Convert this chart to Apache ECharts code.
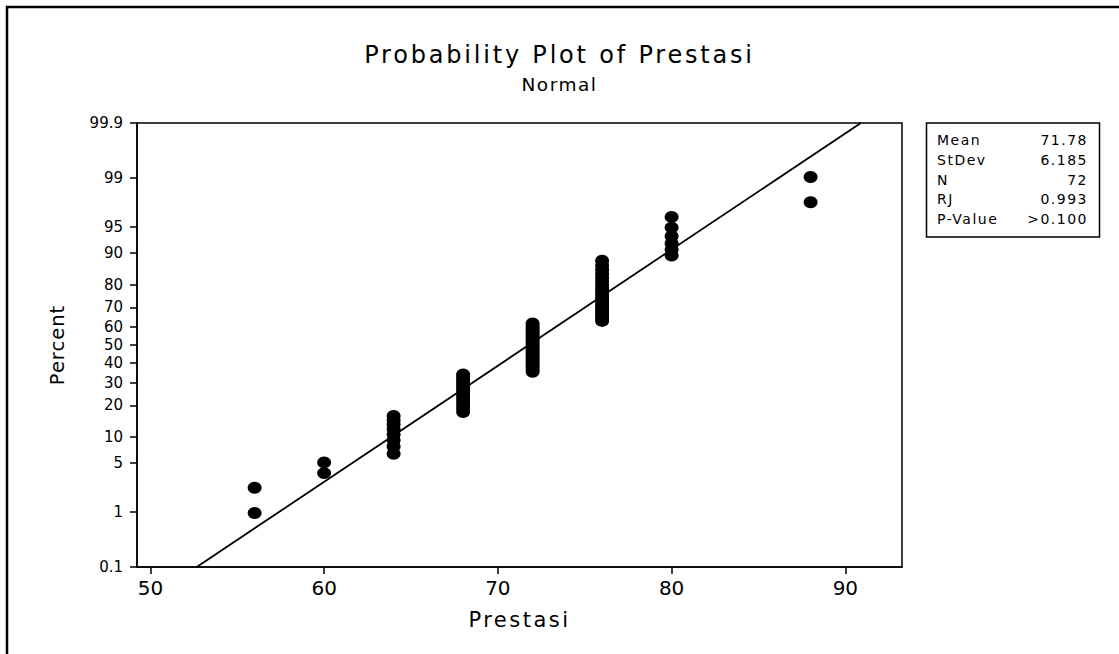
<!DOCTYPE html>
<html>
<head>
<meta charset="utf-8">
<script src="https://cdn.jsdelivr.net/npm/echarts@6/dist/echarts.min.js"></script>
<style>
  html, body { margin: 0; padding: 0; background: #fff; }
  #main { width: 1119px; height: 654px; }
  /* the original uses wide letter spacing on its texts */
  #main text[style*="24px"] { letter-spacing: 2.8px; }
  #main text[style*="18.5px"] { letter-spacing: 1.5px; }
  #main text[style*="21px"] { letter-spacing: 2.5px; }
  #main text[style*="19.5px"] { letter-spacing: 1px; }
  #main text[style*="14px"] { letter-spacing: 1.5px; }
</style>
</head>
<body>
<div id="main"></div>
<script>
// observed scores and how many students got each one
var prestasiValues = [56, 60, 64, 68, 72, 76, 80, 88];
var prestasiCounts = [2, 2, 8, 13, 20, 19, 6, 2];

// percent ticks of the probability scale
var percentTicks = [0.1, 1, 5, 10, 20, 30, 40, 50, 60, 70, 80, 90, 95, 99, 99.9];
var percentLabels = ['0.1', '1', '5', '10', '20', '30', '40', '50', '60', '70', '80', '90', '95', '99', '99.9'];
var xTicks = [50, 60, 70, 80, 90];

// summary table
var statLabels = ['Mean', 'StDev', 'N', 'RJ', 'P-Value'];
var statValues = ['71.78', '6.185', '72', '0.993', '>0.100'];
var mean = 71.78;
var stdev = 6.185;

// inverse normal cdf (Acklam)
function normInv(p) {
    var a = [-3.969683028665376e+01, 2.209460984245205e+02, -2.759285104469687e+02, 1.383577518672690e+02, -3.066479806614716e+01, 2.506628277459239e+00];
    var b = [-5.447609879822406e+01, 1.615858368580409e+02, -1.556989798598866e+02, 6.680131188771972e+01, -1.328068155288572e+01];
    var c = [-7.784894002430293e-03, -3.223964580411365e-01, -2.400758277161838e+00, -2.549671348880107e+00, 4.374664141464968e+00, 2.938163982698783e+00];
    var d = [7.784695709041462e-03, 3.224671290700398e-01, 2.445134137142996e+00, 3.754408661907416e+00];
    var plow = 0.02425, q, r;
    if (p < plow) {
        q = Math.sqrt(-2 * Math.log(p));
        return (((((c[0] * q + c[1]) * q + c[2]) * q + c[3]) * q + c[4]) * q + c[5]) /
            ((((d[0] * q + d[1]) * q + d[2]) * q + d[3]) * q + 1);
    }
    if (p > 1 - plow) {
        q = Math.sqrt(-2 * Math.log(1 - p));
        return -(((((c[0] * q + c[1]) * q + c[2]) * q + c[3]) * q + c[4]) * q + c[5]) /
            ((((d[0] * q + d[1]) * q + d[2]) * q + d[3]) * q + 1);
    }
    q = p - 0.5;
    r = q * q;
    return (((((a[0] * r + a[1]) * r + a[2]) * r + a[3]) * r + a[4]) * r + a[5]) * q /
        (((((b[0] * r + b[1]) * r + b[2]) * r + b[3]) * r + b[4]) * r + 1);
}

// plotting positions (Benard median ranks)
var n = 0;
prestasiCounts.forEach(function (k) { n += k; });
var points = [];
var rank = 0;
prestasiValues.forEach(function (v, i) {
    for (var j = 0; j < prestasiCounts[i]; j++) {
        rank++;
        points.push([v, normInv((rank - 0.3) / (n + 0.4))]);
    }
});

var zTicks = percentTicks.map(function (p) { return normInv(p / 100); });
var zMin = zTicks[0], zMax = zTicks[zTicks.length - 1];
var fitLine = [[mean + zMin * stdev, zMin], [mean + zMax * stdev, zMax]];

var font = 'DejaVu Sans';
var myChart = echarts.init(document.getElementById('main'), null, {renderer: 'svg'});

var graphics = [
    {
        type: 'rect',
        shape: {x: 7, y: 7, width: 1300, height: 800},
        style: {fill: 'none', stroke: '#000', lineWidth: 2.5},
        silent: true
    },
    {
        type: 'rect',
        shape: {x: 926.5, y: 123, width: 173, height: 114},
        style: {fill: '#fff', stroke: '#000', lineWidth: 1.5}
    }
];
statLabels.forEach(function (lab, i) {
    var y = 140 + i * 19.8;
    graphics.push({
        type: 'text', x: 937, y: y,
        style: {text: lab, fontFamily: font, fontSize: 14, fill: '#000', verticalAlign: 'middle', align: 'left'}
    });
    graphics.push({
        type: 'text', x: 1088, y: y,
        style: {text: statValues[i], fontFamily: font, fontSize: 14, fill: '#000', verticalAlign: 'middle', align: 'right'}
    });
});

var option = {
    backgroundColor: '#fff',
    animation: false,
    title: {
        text: 'Probability Plot of Prestasi',
        subtext: 'Normal',
        left: 'center',
        top: 38,
        itemGap: 8,
        textStyle: {fontFamily: font, fontSize: 24, fontWeight: 'normal', color: '#000'},
        subtextStyle: {fontFamily: font, fontSize: 18.5, color: '#000'}
    },
    grid: {
        left: 137, right: 217, top: 123, bottom: 87,
        show: true, borderColor: '#000', borderWidth: 1.5
    },
    xAxis: {
        type: 'value',
        min: 49.23,
        max: 93.26,
        name: 'Prestasi',
        nameLocation: 'middle',
        nameGap: 42,
        nameTextStyle: {fontFamily: font, fontSize: 21, color: '#000'},
        axisLine: {onZero: false, lineStyle: {color: '#000', width: 1.5}},
        axisTick: {customValues: xTicks, length: 7, lineStyle: {color: '#000', width: 1.5}},
        axisLabel: {customValues: xTicks, margin: 11, fontFamily: font, fontSize: 20, color: '#000'},
        splitLine: {show: false}
    },
    yAxis: {
        type: 'value',
        min: zMin,
        max: zMax,
        name: 'Percent',
        nameLocation: 'middle',
        nameRotate: 90,
        nameGap: 70,
        nameTextStyle: {fontFamily: font, fontSize: 19.5, color: '#000'},
        axisLine: {onZero: false, lineStyle: {color: '#000', width: 1.5}},
        axisTick: {customValues: zTicks, length: 7, lineStyle: {color: '#000', width: 1.5}},
        axisLabel: {
            customValues: zTicks,
            margin: 14,
            fontFamily: font,
            fontSize: 15,
            color: '#000',
            formatter: function (v) {
                for (var i = 0; i < zTicks.length; i++) {
                    if (Math.abs(zTicks[i] - v) < 1e-6) return percentLabels[i];
                }
                return '';
            }
        },
        splitLine: {show: false}
    },
    graphic: graphics,
    series: [
        {
            type: 'line',
            data: fitLine,
            showSymbol: false,
            clip: true,
            lineStyle: {color: '#000', width: 1.8},
            z: 2
        },
        {
            type: 'scatter',
            data: points,
            symbol: 'circle',
            symbolSize: [14, 12],
            itemStyle: {color: '#000', opacity: 1},
            z: 3
        }
    ]
};

myChart.setOption(option);
</script>
</body>
</html>
